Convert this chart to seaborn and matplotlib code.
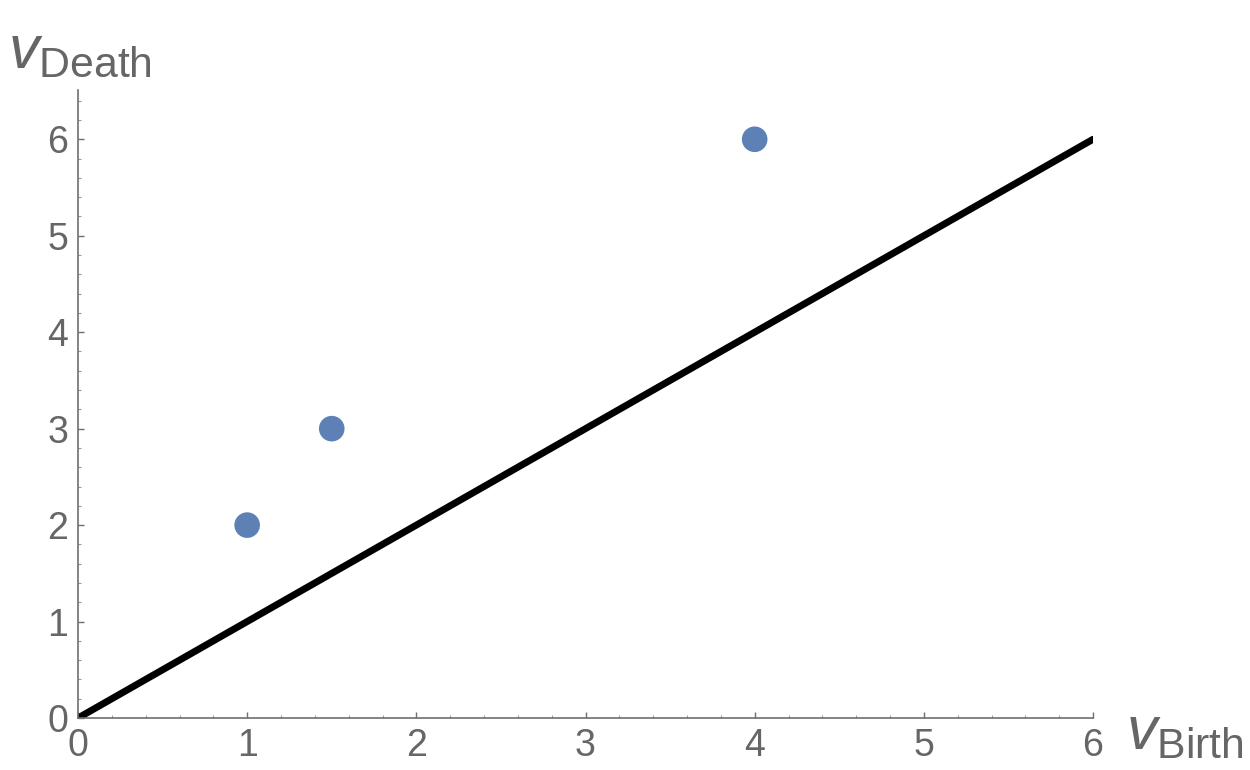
import numpy as np
import pandas as pd
import matplotlib
matplotlib.use("Agg")
import matplotlib.pyplot as plt
from matplotlib.ticker import MultipleLocator
import seaborn as sns

# persistence diagram points
birth = [1.0, 1.5, 4.0]
death = [2.0, 3.0, 6.0]

# diagonal y = x
diag_x = [0, 6]
diag_y = [0, 6]

sns.set_theme(style="white")
plt.rcParams['font.family'] = ['Liberation Sans', 'DejaVu Sans']
plt.rcParams['mathtext.fontset'] = 'custom'
plt.rcParams['mathtext.rm'] = 'Liberation Sans'
plt.rcParams['mathtext.it'] = 'Liberation Sans:italic'

axis_grey = '#6e6e6e'
text_grey = '#666666'

fig = plt.figure(figsize=(12.5, 7.7), dpi=100)
ax = fig.add_axes([0.0624, 0.0675, 0.812, 0.8155])

pts = pd.DataFrame({'birth': birth, 'death': death})
line = pd.DataFrame({'x': diag_x, 'y': diag_y})

sns.lineplot(data=line, x='x', y='y', color='black', linewidth=5, ax=ax)
sns.scatterplot(data=pts, x='birth', y='death', color='#5e81b5', s=340,
                edgecolor='none', ax=ax, zorder=3)

ax.set_xlim(0, 6)
ax.set_ylim(0, 6.51)
ax.xaxis.set_major_locator(MultipleLocator(1))
ax.yaxis.set_major_locator(MultipleLocator(1))
ax.xaxis.set_minor_locator(MultipleLocator(0.2))
ax.yaxis.set_minor_locator(MultipleLocator(0.2))

for s in ['top', 'right']:
    ax.spines[s].set_visible(False)
for s in ['left', 'bottom']:
    ax.spines[s].set_color(axis_grey)
    ax.spines[s].set_linewidth(1.2)

ax.tick_params(which='major', direction='in', length=4, width=1, color=axis_grey,
               labelsize=27, labelcolor=text_grey, pad=7)
ax.tick_params(which='minor', direction='in', length=2.5, width=0.8, color='#999999')
ax.tick_params(axis='x', which='both', bottom=True)
ax.tick_params(axis='y', which='both', left=True)

ax.set_xlabel('')
ax.set_ylabel('')

fig.text(0.006, 0.912, r'$v_{\mathrm{Death}}$', fontsize=44, color=text_grey)
fig.text(0.901, 0.028, r'$v_{\mathrm{Birth}}$', fontsize=44, color=text_grey)

fig.savefig('out.png', dpi=100, facecolor='white')
